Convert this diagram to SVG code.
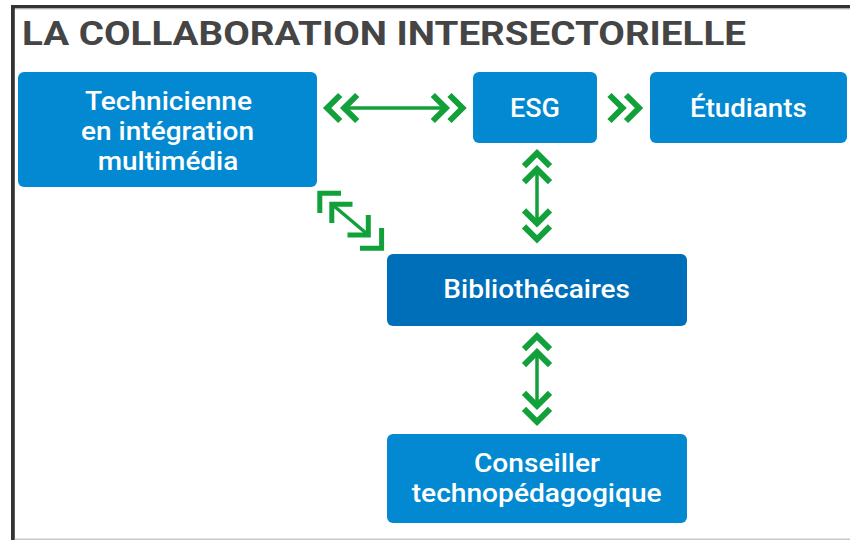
<svg xmlns="http://www.w3.org/2000/svg" width="850" height="540" viewBox="0 0 850 540">
<defs>
<style>
.box{fill:#0389D1;}
.box2{fill:#006FBA;}
.lbl{font-family:Roboto,"Liberation Sans",sans-serif;font-weight:500;font-size:25px;fill:#fff;}
.title{font-family:Roboto,"Liberation Sans",sans-serif;font-weight:700;font-size:34px;fill:#454545;}
.chev{fill:none;stroke:#12A03A;stroke-width:6;stroke-linejoin:miter;stroke-linecap:butt;}
.corner{fill:none;stroke:#12A03A;stroke-width:5;stroke-linejoin:miter;stroke-linecap:butt;}
.ln{fill:none;stroke:#12A03A;stroke-width:3.5;}
</style>
</defs>
<rect x="0" y="0" width="850" height="540" fill="#fff"/>
<g id="frame">
<rect x="11" y="5" width="839" height="3.5" fill="#333"/>
<rect x="11" y="8.5" width="839" height="1" fill="#c8c8c8"/>
<rect x="11" y="5" width="3.8" height="535" fill="#333"/>
<rect x="14.8" y="538.5" width="835.2" height="1.5" fill="#c8c8c8"/>
</g>
<text class="title" x="22" y="45" textLength="724" lengthAdjust="spacingAndGlyphs">LA COLLABORATION INTERSECTORIELLE</text>
<g id="connectors">
<g id="tech-esg">
<line class="ln" x1="344" y1="108" x2="446" y2="108"/>
<polyline class="chev" points="340.2,95 327.2,108 340.2,121"/>
<polyline class="chev" points="357.2,95 344.2,108 357.2,121"/>
<polyline class="chev" points="449.5,95 462.5,108 449.5,121"/>
<polyline class="chev" points="432.8,95 445.8,108 432.8,121"/>
</g>
<g id="esg-etudiants">
<polyline class="chev" points="609.5,95 622.5,108 609.5,121"/>
<polyline class="chev" points="626,95 639,108 626,121"/>
</g>
<g id="esg-biblio">
<line class="ln" x1="537" y1="170" x2="537" y2="223"/>
<polyline class="chev" points="524,166.2 537,153.2 550,166.2"/>
<polyline class="chev" points="524,182.2 537,169.2 550,182.2"/>
<polyline class="chev" points="524,210.3 537,223.3 550,210.3"/>
<polyline class="chev" points="524,226.3 537,239.3 550,226.3"/>
</g>
<g id="biblio-conseiller">
<line class="ln" x1="537" y1="352" x2="537" y2="406"/>
<polyline class="chev" points="524,349.2 537,336.2 550,349.2"/>
<polyline class="chev" points="524,365.2 537,352.2 550,365.2"/>
<polyline class="chev" points="524,392.8 537,405.8 550,392.8"/>
<polyline class="chev" points="524,408.8 537,421.8 550,408.8"/>
</g>
<g id="tech-biblio">
<line class="ln" x1="334" y1="206" x2="366" y2="233"/>
<polyline class="corner" points="341,193.2 319.8,193.2 319.8,213"/>
<polyline class="corner" points="352.5,204.2 331.8,204.2 331.8,223"/>
<polyline class="corner" points="347.5,235 368.3,235 368.3,215"/>
<polyline class="corner" points="360,248.3 381.6,248.3 381.6,228"/>
</g>
</g>
<g id="node-technicienne">
<rect class="box" x="18" y="72" width="299" height="115" rx="6"/>
<text class="lbl" x="85" y="110" textLength="167" lengthAdjust="spacingAndGlyphs">Technicienne</text>
<text class="lbl" x="81" y="140" textLength="173" lengthAdjust="spacingAndGlyphs">en intégration</text>
<text class="lbl" x="97.7" y="170" textLength="140.6" lengthAdjust="spacingAndGlyphs">multimédia</text>
</g>
<g id="node-esg">
<rect class="box" x="473" y="72" width="124" height="71" rx="6"/>
<text class="lbl" x="510" y="117.3" textLength="50" lengthAdjust="spacingAndGlyphs">ESG</text>
</g>
<g id="node-etudiants">
<rect class="box" x="650" y="72" width="197" height="71" rx="6"/>
<text class="lbl" x="690" y="117.3" textLength="116.7" lengthAdjust="spacingAndGlyphs">Étudiants</text>
</g>
<g id="node-bibliothecaires">
<rect class="box2" x="387" y="254" width="300" height="72" rx="6"/>
<text class="lbl" x="443.3" y="298.3" textLength="186.7" lengthAdjust="spacingAndGlyphs">Bibliothécaires</text>
</g>
<g id="node-conseiller">
<rect class="box" x="387" y="434" width="300" height="89" rx="6"/>
<text class="lbl" x="474" y="471.7" textLength="126" lengthAdjust="spacingAndGlyphs">Conseiller</text>
<text class="lbl" x="411.7" y="501.7" textLength="250" lengthAdjust="spacingAndGlyphs">technopédagogique</text>
</g>
</svg>
